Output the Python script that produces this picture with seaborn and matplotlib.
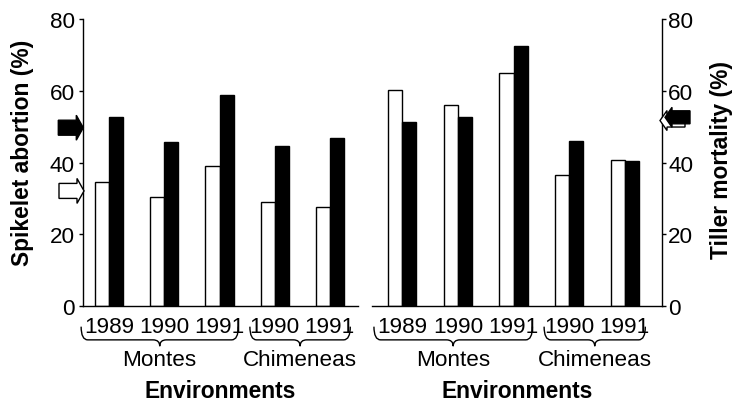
import numpy as np
import pandas as pd
import matplotlib
matplotlib.use("Agg")
import matplotlib.pyplot as plt
import matplotlib.transforms as mtransforms
from matplotlib.path import Path
from matplotlib.patches import PathPatch, Polygon
import seaborn as sns

# Environments (site x year)
sites = ["Montes", "Montes", "Montes", "Chimeneas", "Chimeneas"]
years = ["1989", "1990", "1991", "1990", "1991"]

# Spikelet abortion (%)
spikelet_open = [34.5, 30.5, 38.9, 28.9, 27.6]
spikelet_filled = [52.7, 45.6, 58.7, 44.7, 46.8]

# Tiller mortality (%)
tiller_open = [60.3, 56.0, 64.9, 36.6, 40.7]
tiller_filled = [51.4, 52.7, 72.5, 46.0, 40.4]

y_ticks = [0, 20, 40, 60, 80]

sns.set_style("ticks")
plt.rcParams["font.family"] = ["Liberation Sans", "DejaVu Sans"]
plt.rcParams.update({
    "text.color": "black",
    "axes.labelcolor": "black",
    "xtick.color": "black",
    "ytick.color": "black",
    "axes.edgecolor": "black",
    "axes.linewidth": 1.0,
})

TICK_FS = 16.2
BOLD_FS = 16.4

env_keys = [f"{s} {y}" for s, y in zip(sites, years)]
palette = {"open": "white", "filled": "black"}


def long_frame(open_vals, filled_vals):
    return pd.DataFrame({
        "env": env_keys * 2,
        "series": ["open"] * len(env_keys) + ["filled"] * len(env_keys),
        "value": list(open_vals) + list(filled_vals),
    })


def brace(ax, x0, x1, r=0.12, y_top=-0.072, y_mid=-0.118, y_tip=-0.140):
    xm = (x0 + x1) / 2
    verts = [
        (x0, y_top), (x0, y_mid), (x0 + r, y_mid),
        (xm - r, y_mid), (xm, y_mid), (xm, y_tip),
        (xm, y_mid), (xm + r, y_mid),
        (x1 - r, y_mid), (x1, y_mid), (x1, y_top),
    ]
    codes = [
        Path.MOVETO, Path.CURVE3, Path.CURVE3,
        Path.LINETO, Path.CURVE3, Path.CURVE3,
        Path.CURVE3, Path.CURVE3,
        Path.LINETO, Path.CURVE3, Path.CURVE3,
    ]
    trans = mtransforms.blended_transform_factory(ax.transData, ax.transAxes)
    ax.add_patch(PathPatch(Path(verts, codes), facecolor="none",
                           edgecolor="black", lw=1.0, transform=trans,
                           clip_on=False))


def mean_arrow(ax, y_value, tip_px, axis_width_px, facecolor, direction,
               length=25, head_len=7, head_half=12.5, shaft_half=7.5):
    # x given in pixels relative to the axes' left edge, y in data units
    px_per_unit = 287 / 80
    hh = head_half / px_per_unit
    sh = shaft_half / px_per_unit
    d = 1 if direction == "right" else -1
    tip = tip_px
    neck = tip - d * head_len
    tail = tip - d * length
    pts_px = [
        (tip, y_value), (neck, y_value + hh), (neck, y_value + sh),
        (tail, y_value + sh), (tail, y_value - sh), (neck, y_value - sh),
        (neck, y_value - hh),
    ]
    pts = [(x / axis_width_px, y) for x, y in pts_px]
    trans = mtransforms.blended_transform_factory(ax.transAxes, ax.transData)
    ax.add_patch(Polygon(pts, closed=True, facecolor=facecolor,
                         edgecolor="black", lw=1.0, transform=trans,
                         clip_on=False, zorder=5))


fig = plt.figure(figsize=(7.33, 4.02), dpi=100)
ax1 = fig.add_axes([83 / 733, 95 / 402, 275 / 733, 287 / 402])
ax2 = fig.add_axes([372 / 733, 95 / 402, 290 / 733, 287 / 402])

panels = [
    (ax1, spikelet_open, spikelet_filled, (-0.476, 4.51)),
    (ax2, tiller_open, tiller_filled, (-0.545, 4.67)),
]

for ax, open_vals, filled_vals, xlim in panels:
    sns.barplot(data=long_frame(open_vals, filled_vals), x="env", y="value",
                hue="series", hue_order=["open", "filled"], order=env_keys,
                palette=palette, width=0.51, gap=0, edgecolor="black",
                linewidth=1.0, saturation=1, errorbar=None, legend=False,
                ax=ax)
    ax.set_xlim(*xlim)
    ax.set_ylim(0, 80)
    ax.set_yticks(y_ticks)
    ax.set_yticklabels([str(t) for t in y_ticks])
    ax.set_xticks(range(len(env_keys)))
    ax.set_xticklabels(years)
    ax.set_xlabel("")
    ax.set_ylabel("")
    ax.tick_params(axis="x", length=0, pad=7.0, labelsize=TICK_FS)
    ax.tick_params(axis="y", length=3, width=1.0, labelsize=TICK_FS)
    ax.spines["top"].set_visible(False)

    # Site braces and names
    brace(ax, -0.51, 2.34)
    brace(ax, 2.55, 4.37)
    tr = mtransforms.blended_transform_factory(ax.transData, ax.transAxes)
    ax.text(0.915, -0.207, "Montes", transform=tr, ha="center",
            va="baseline", fontsize=TICK_FS)
    ax.text(3.46, -0.207, "Chimeneas", transform=tr, ha="center",
            va="baseline", fontsize=TICK_FS)
    ax.text(0.5, -0.317, "Environments", transform=ax.transAxes,
            ha="center", va="baseline", fontsize=BOLD_FS, fontweight="bold")

# Left panel: axis on the left
ax1.spines["right"].set_visible(False)
ax1.tick_params(axis="y", pad=3)
ax1.text(-0.22, 0.537, "Spikelet abortion (%)", transform=ax1.transAxes,
         rotation=90, ha="center", va="center", fontsize=BOLD_FS,
         fontweight="bold")

# Right panel: axis on the right
ax2.spines["left"].set_visible(False)
ax2.yaxis.tick_right()
ax2.tick_params(axis="y", left=False, right=True, pad=1.5)
ax2.text(1.206, 0.512, "Tiller mortality (%)", transform=ax2.transAxes,
         rotation=90, ha="center", va="center", fontsize=BOLD_FS,
         fontweight="bold")

# Mean markers on the value axes
mean_arrow(ax1, np.mean(spikelet_filled), 0.3, 275, "black", "right")
mean_arrow(ax1, np.mean(spikelet_open), 1.0, 275, "white", "right")
mean_arrow(ax2, np.mean(tiller_open), 288, 290, "white", "left",
           head_len=7, head_half=10, shaft_half=6.5)
mean_arrow(ax2, np.mean(tiller_filled), 293, 290, "black", "left",
           head_len=7, head_half=10, shaft_half=6.5)

fig.savefig("out.png", dpi=100)
